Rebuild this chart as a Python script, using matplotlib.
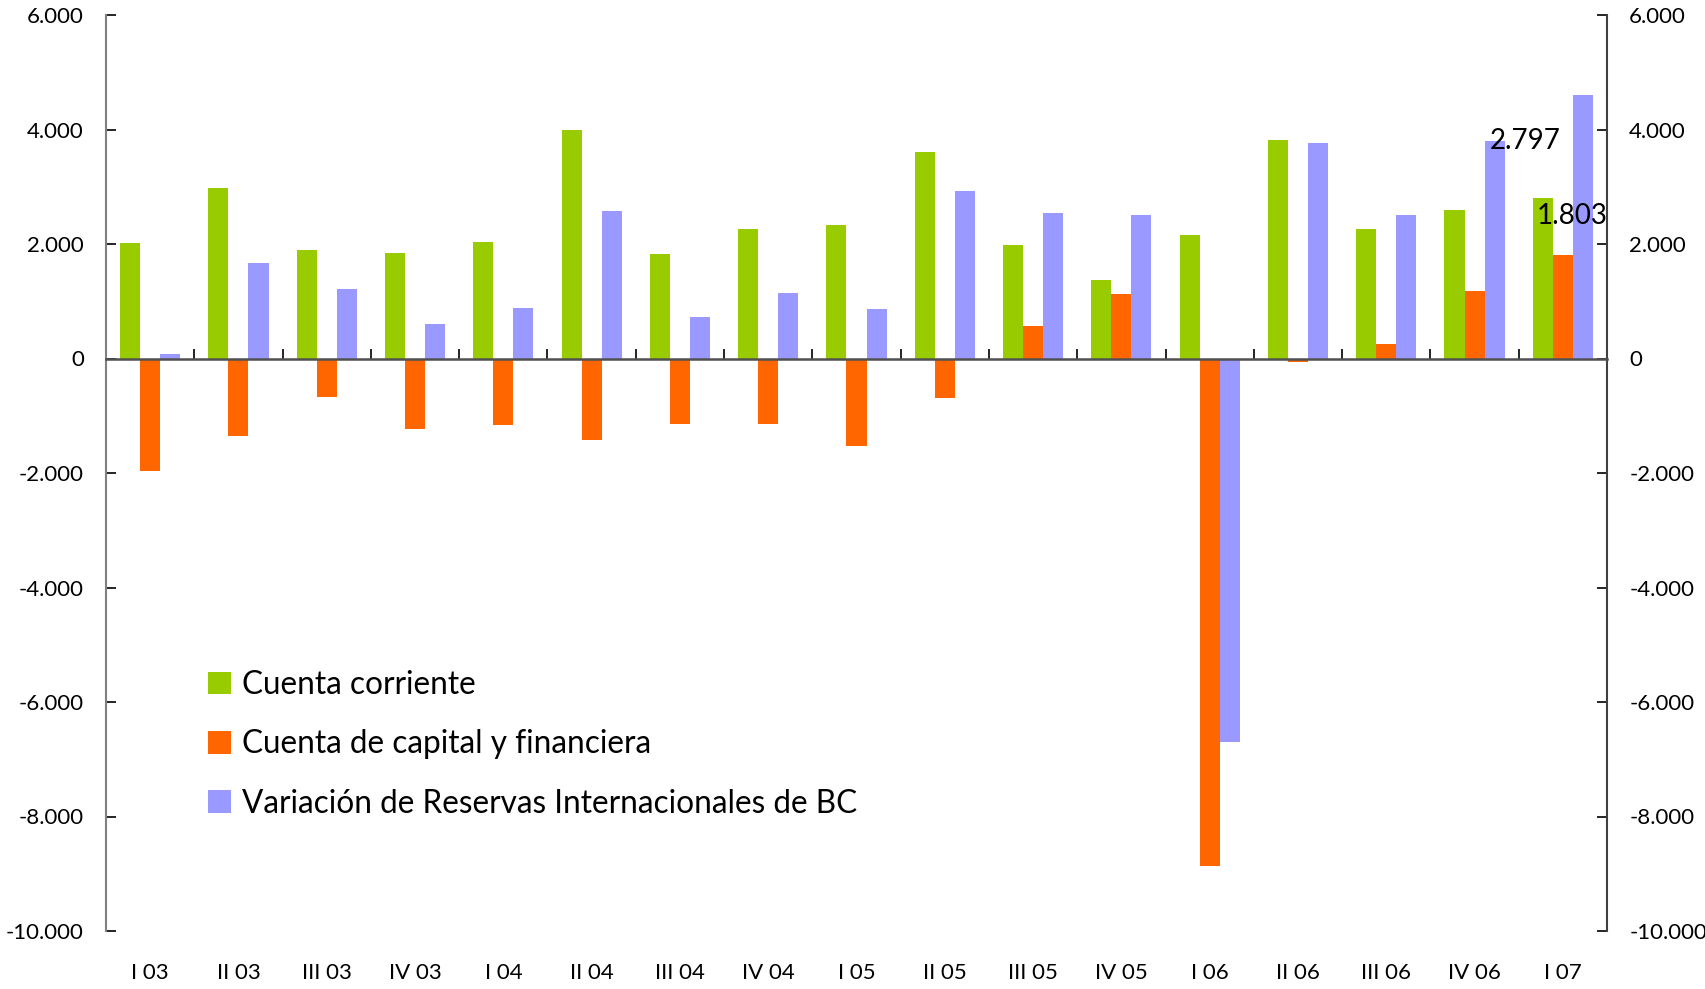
import numpy as np
import matplotlib
matplotlib.use("Agg")
import matplotlib.pyplot as plt
from matplotlib.ticker import FuncFormatter, FixedLocator

plt.rcParams['font.family'] = ['Lato', 'DejaVu Sans']

# datos trimestrales (millones)
trimestres = ["I 03", "II 03", "III 03", "IV 03", "I 04", "II 04", "III 04", "IV 04",
              "I 05", "II 05", "III 05", "IV 05", "I 06", "II 06", "III 06", "IV 06", "I 07"]
cuenta_corriente = [2020, 2980, 1890, 1850, 2040, 4000, 1830, 2270,
                    2340, 3600, 1980, 1370, 2150, 3810, 2270, 2590, 2797]
cuenta_capital = [-1960, -1350, -680, -1240, -1160, -1430, -1140, -1140,
                  -1520, -690, 570, 1120, -8860, -60, 250, 1180, 1803]
var_reservas = [80, 1660, 1220, 610, 880, 2570, 720, 1140,
                860, 2920, 2550, 2500, -6700, 3770, 2510, 3800, 4610]

nombres = ["Cuenta corriente", "Cuenta de capital y financiera",
           "Variación de Reservas Internacionales de BC"]
colores = ["#99CC00", "#FF6600", "#9999FF"]

fig = plt.figure(figsize=(17.06, 9.89), dpi=100)
ax = fig.add_axes([106/1706, 1-931/989, (1607-106)/1706, (931-15)/989])

x = np.arange(len(trimestres))
w = 0.227
for k, serie in enumerate([cuenta_corriente, cuenta_capital, var_reservas]):
    ax.bar(x + (k-1)*w, serie, w, color=colores[k], label=nombres[k], zorder=2)

ax.set_xlim(-0.5, len(trimestres)-0.5)
ax.set_ylim(-10000, 6000)
ax.set_yticks(np.arange(-10000, 6001, 2000))

def miles(v, pos):
    v = int(round(v))
    s = f"{abs(v):,}".replace(",", ".")
    return ("-" if v < 0 else "") + s

ax.yaxis.set_major_formatter(FuncFormatter(miles))
ax.tick_params(axis='y', direction='in', length=7, width=1.2, left=True, right=True,
               labelleft=True, labelright=True, labelsize=16, pad=16)

ax.spines['top'].set_visible(False)
ax.spines['left'].set_color('#808080')
ax.spines['right'].set_color('#404040')
ax.spines['left'].set_linewidth(1.5)
ax.spines['right'].set_linewidth(1.5)
ax.spines['bottom'].set_position(('data', 0))
ax.spines['bottom'].set_color('#505050')
ax.spines['bottom'].set_linewidth(1.8)
ax.spines['bottom'].set_zorder(3)

# marcas entre categorias sobre la linea de cero
ax.xaxis.set_major_locator(FixedLocator(np.arange(0.5, len(trimestres)-1, 1)))
ax.tick_params(axis='x', direction='in', length=7, width=1.2, labelbottom=False)

# etiquetas de categorias abajo
sec = ax.secondary_xaxis('bottom')
sec.set_xticks(x)
sec.set_xticklabels(trimestres)
sec.spines['bottom'].set_visible(False)
sec.tick_params(axis='x', length=0, labelsize=16, pad=23)

# etiquetas de datos del ultimo trimestre
ax.text(x[-1] - 0.43, cuenta_corriente[-1] + 1008, "2.797", fontsize=20,
        ha='center', va='center', zorder=4)
ax.text(x[-1] + 0.1, cuenta_capital[-1] + 693, "1.803", fontsize=20,
        ha='center', va='center', zorder=4)

leg = ax.legend(loc='upper left', bbox_to_anchor=(208/1706, 1-670/989),
                bbox_transform=fig.transFigure, frameon=False, fontsize=22.7,
                handlelength=0.72, handleheight=0.72, handletextpad=0.35,
                labelspacing=0.93, borderpad=0, borderaxespad=0)

fig.savefig("out.png", dpi=100)
